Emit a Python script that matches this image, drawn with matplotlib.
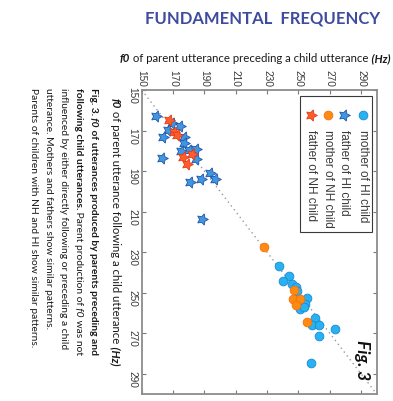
import matplotlib
matplotlib.use('Agg')
import matplotlib.pyplot as plt
from matplotlib.patches import Rectangle
from matplotlib.transforms import IdentityTransform

# parent f0 (Hz) before / after a child utterance
mother_hi_pre = [237.8, 244.2, 240.0, 245.7, 248.3, 249.1, 255.5, 254.5, 251.3, 253.6,
                 260.6, 259.0, 263.1, 273.5, 263.1, 258.0]
mother_hi_fol = [236.9, 241.7, 244.2, 245.6, 247.4, 249.3, 252.7, 255.4, 258.1, 256.9,
                 262.7, 265.8, 266.0, 268.0, 271.3, 284.5]
father_hi_pre = [159.3, 169.3, 174.4, 166.8, 163.4, 177.0, 177.0, 175.4, 180.4, 184.8,
                 184.7, 163.1, 193.6, 196.6, 187.8, 180.8, 188.2]
father_hi_fol = [162.7, 166.5, 167.7, 169.5, 173.0, 173.1, 176.2, 180.1, 179.4, 179.3,
                 183.8, 183.7, 191.1, 193.7, 193.7, 195.6, 213.6]
mother_nh_pre = [228.2, 247.2, 246.6, 251.3, 248.5, 255.7]
mother_nh_fol = [227.5, 248.8, 253.0, 253.2, 256.2, 264.3]
father_nh_pre = [167.6, 170.6, 172.7, 182.1, 176.5, 178.7]
father_nh_fol = [164.8, 170.5, 172.2, 181.6, 183.0, 186.5]

legend_labels = ['mother of HI child', 'father of HI child',
                 'mother of NH child', 'father of NH child']
ticks = [150, 170, 190, 210, 230, 250, 270, 290]
axis_lim = [150, 300]
ref_line = [150, 300]

caption = [
    [('Fig. 3.', 'bold', 'normal'), (' f0', 'bold', 'italic'),
     (' of utterances produced by parents preceding and', 'bold', 'normal')],
    [('following child utterances.', 'bold', 'normal'),
     (' Parent production of', 'normal', 'normal'), (' f0', 'normal', 'italic'),
     (' was not', 'normal', 'normal')],
    [('influenced by either directly following or preceding a child', 'normal', 'normal')],
    [('utterance. Mothers and fathers show similar patterns.', 'normal', 'normal')],
    [('Parents of children with NH and HI show similar patterns.', 'normal', 'normal')],
]
xlabel = [('f0', 'bold', 'italic'), (' of parent utterance preceding a child utterance', 'normal', 'normal'),
          (' (Hz)', 'bold', 'italic')]
ylabel = [('f0', 'bold', 'italic'), (' of parent utterance following a child utterance', 'normal', 'normal'),
          (' (Hz)', 'bold', 'italic')]

plt.rcParams['font.family'] = ['Liberation Sans', 'DejaVu Sans']

W, H = 393, 402
fig = plt.figure(figsize=(W / 100, H / 100), dpi=100)
fig.patch.set_facecolor('white')
renderer = fig.canvas.get_renderer()


def rich_text(pieces, x, y, size, rotation=0, family='Lato', color='#1a1a1a'):
    # x, y in image pixels (y from top); text is laid out piece by piece
    x, y = x, H - y
    for s, weight, style in pieces:
        t = fig.text(x, y, s, transform=IdentityTransform(), rotation=rotation,
                     rotation_mode='anchor', ha='left', va='baseline', fontsize=size,
                     fontweight=weight, fontstyle=style, family=family, color=color)
        bb = t.get_window_extent(renderer)
        if rotation == 0:
            x = bb.x1
        else:
            y = bb.y0


# axes placed to match the rotated poster panel
ax = fig.add_axes([141.7 / W, 1 - 395 / H, 235 / W, 304 / H])
ax.set_xlim(axis_lim)
ax.set_ylim(axis_lim[::-1])

ax.plot(ref_line, ref_line, ls=(0, (1, 2.5)), color='#9a9a9a', lw=1, zorder=1)

star = (5, 1, -90)
styles = [
    dict(marker='o', ms=6.3, mfc='#27b3f0', mec='#1f86d6', mew=0.6),
    dict(marker=star, ms=8.5, mfc='#3d97e2', mec='#2354a8', mew=0.6),
    dict(marker='o', ms=6.3, mfc='#ff8a12', mec='#f0720e', mew=0.6),
    dict(marker=star, ms=8.5, mfc='#ff5c2c', mec='#e23c18', mew=0.6),
]
ax.plot(mother_hi_pre, mother_hi_fol, ls='none', zorder=3, **styles[0])
ax.plot(father_hi_pre, father_hi_fol, ls='none', zorder=3, **styles[1])
ax.plot(mother_nh_pre, mother_nh_fol, ls='none', zorder=4, **styles[2])
ax.plot(father_nh_pre, father_nh_fol, ls='none', zorder=4, **styles[3])

ax.set_xticks(ticks)
ax.set_yticks(ticks)
ax.tick_params(direction='in', length=3, width=0.8, color='#7a7a7a',
               top=True, bottom=True, left=True, right=True,
               labeltop=True, labelbottom=False, labelsize=7.3,
               labelcolor='#3a3a3a', labelrotation=-90, pad=3)
for sp in ax.spines.values():
    sp.set_color('#8c8c8c')
    sp.set_linewidth(1.3)

# legend drawn by hand, rotated like the rest of the panel
ax.add_patch(Rectangle((0.6715, 0.532), 0.3085, 0.447, transform=ax.transAxes,
                       facecolor='white', edgecolor='#3a3a3a', lw=0.8, zorder=5))
leg_x = [0.940, 0.861, 0.791, 0.720]
for lx, lab, st in zip(leg_x, legend_labels, styles):
    ax.plot([lx], [0.919], transform=ax.transAxes, ls='none', zorder=6, clip_on=False, **st)
    ax.text(lx, 0.872, lab, transform=ax.transAxes, rotation=-90, ha='center', va='top',
            fontsize=8.5, color='#3a3a3a', zorder=6)

ax.text(0.937, 0.181, 'Fig. 3', transform=ax.transAxes, rotation=-90, ha='center', va='top',
        fontsize=12.5, fontweight='bold', fontstyle='italic', family='Lato', color='#111111', zorder=6)

fig.text(263 / W, 1 - 19 / H, 'FUNDAMENTAL  FREQUENCY', ha='center', va='center',
         fontsize=12, fontweight='bold', color='#3f4b9f', family='Lato')

rich_text(xlabel, 120, 62, 8.2)
rich_text(ylabel, 112, 98, 8.2, rotation=-90)

for i, line in enumerate(caption):
    rich_text(line, 91 - 15 * i, 88, 7.4, rotation=-90)

fig.savefig('out.png', dpi=100, facecolor='white')
